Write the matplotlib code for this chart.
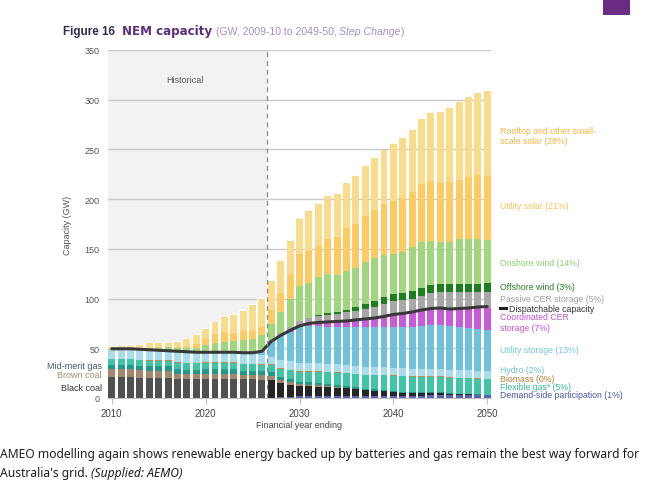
import numpy as np
import matplotlib
matplotlib.use('Agg')
import matplotlib.pyplot as plt

# financial year ending, 2010 .. 2050
years = np.arange(2010, 2051)

# capacity by technology (GW)
demand_side = [0, 0, 0, 0, 0, 0, 0, 0, 0, 0,
               0.5, 0.5, 0.5, 0.5, 0.5, 0.5, 0.5, 0.5,
               1.5, 1.5, 2, 2, 2, 2, 2, 2, 2, 2, 2.5, 2.5, 2.5, 2.5, 2.5, 2.5, 3, 3, 3, 3, 3, 3, 3]
black_coal = [21.5, 21.5, 21.5, 20.5, 20, 20, 20, 19, 19, 19, 19, 19, 19, 19, 18.5, 18.5, 18, 18,
              14, 12, 10.5, 10, 9.5, 9, 8.5, 8, 7, 6, 5, 4.5, 3.5, 3, 2.5, 2.5, 2, 2, 1.5, 1, 1, 0.5, 0]
brown_coal = [7.5, 7.5, 7.5, 7.5, 7.5, 7.3, 7.3, 5.5, 5, 5, 5, 5, 5, 5, 4.5, 4.5, 4.5, 4,
              3, 2.5, 1.5, 1.5, 1.5, 1.5, 1, 0.5, 0, 0, 0, 0, 0, 0, 0, 0, 0, 0, 0, 0, 0, 0, 0]
mid_merit_gas = [4.5, 4.5, 4.5, 4.5, 4.5, 4.5, 4.5, 4.5, 4.5, 4.5, 4.5, 4.5, 4.5, 4.5, 4, 4, 4, 3.5,
                 3, 3, 2.5, 2.5, 2.5, 2, 2, 2, 2, 1.5, 1.5, 1.5, 1, 1, 1, 1, 1, 1, 0.5, 0.5, 0.5, 0.5, 0.5]
flexible_gas = [5.5, 5.5, 5.5, 5.5, 5.5, 5.5, 5.5, 6.5, 6.5, 6.5, 6.5, 6.5, 6.5, 6.5, 6.5, 6.5, 6.5, 7.5,
                8, 9, 10, 10.5, 11, 11.5, 12, 12.5, 13, 13.5, 14, 14.5, 15.5, 15.5, 15.5, 15.5, 15.5, 15.5,
                15.5, 15.5, 15.5, 15.5, 15.5]
biomass = [0.5] * 18 + [0.5, 0.5, 0.5] + [0.3] * 20
hydro = [9, 9, 9, 9, 9, 9, 9, 9.5, 9.5, 9.5, 9.5, 9.5, 9.5, 9.5, 9.5, 9.5, 9.5, 7,
         8.5, 8.5, 8, 8, 8, 8, 8, 8, 8, 8, 7.5, 7.5, 7.5, 7.5, 7.5, 7.5, 7.5, 7.5, 7.5, 7.5, 7.5, 7.5, 7.5]
utility_storage = [0, 0, 0, 0, 0, 0, 0, 0, 0, 0, 0.5, 1, 1, 1.5, 2, 2.5, 3.5, 15,
                   23.5, 29, 36, 37.2, 37.2, 37.2, 37.2, 37.7, 38.7, 39.7, 40.2, 40.2, 40.7, 41.2, 41.7,
                   42.7, 43.7, 43.7, 43.7, 43.2, 42.2, 41.7, 41.2]
coordinated_cer = [0] * 17 + [0.5,
                   0.5, 1, 1.5, 2, 3, 4, 5, 6, 7, 8, 9, 10.5, 12, 13, 14, 15, 16.5, 17.5, 18.5, 19.5,
                   20.5, 21.5, 22.5]
passive_cer = [0] * 14 + [0.5, 1, 1.5, 2,
               3, 4, 5, 6, 7, 8, 8.5, 9, 10, 11, 12, 13, 14.5, 14.5, 15, 15.5, 16, 16, 16, 16, 16, 16, 16]
offshore_wind = [0] * 22 + [1, 1.5, 2, 2.5, 4, 5, 5.5, 7, 7.5, 7.5, 8, 8, 8, 8, 8, 8, 8, 8.5, 9]
onshore_wind = [1, 1.5, 2, 2.5, 3, 3.5, 4, 4.5, 5, 5.5, 7, 8.5, 10, 10.5, 11.5, 12, 15, 16,
                20.5, 28.5, 35.5, 36, 38.5, 40, 37.5, 39.5, 38.5, 41.5, 43, 42, 40, 41, 44, 46.5,
                44.5, 42.5, 42.5, 45.5, 45.5, 45, 43.5]
utility_solar = [0, 0, 0, 0, 0.5, 0.5, 0.5, 1, 2, 3.5, 6.5, 9, 9.5, 8, 9, 7.5, 8, 14,
                 20, 25.5, 32, 32, 31.5, 35, 38, 43, 44.5, 47, 49, 51.5, 53, 54, 55, 58, 60, 59, 60,
                 59, 62, 64, 64]
rooftop_solar = [1.5, 2, 1.5, 3, 4.5, 4.2, 3.7, 5.5, 7, 9, 10, 12, 15, 18, 21, 27, 28.5, 29.5,
                 32, 33, 35, 40, 42, 43, 43, 45, 48, 49.5, 51.5, 54, 57, 60, 63, 66, 69, 72, 75,
                 79, 81, 83, 86]
dispatchable = [49.5, 49.5, 49.5, 49, 48.5, 48, 47.5, 47, 46.5, 46, 46, 46, 46, 46, 45.5, 45.5, 47, 57,
                63, 68, 72.5, 75, 76, 76.5, 77, 77.5, 78.5, 79.5, 80.5, 82, 84, 85, 86.5, 88.5, 90,
                90.5, 89.5, 90, 90.5, 91.5, 92]

series = [
    (demand_side, '#5a5fb8'),
    (black_coal, None),
    (brown_coal, '#a4876a'),
    (mid_merit_gas, '#1f9a8a'),
    (flexible_gas, '#40c4a6'),
    (biomass, '#c08a4a'),
    (hydro, '#a9dcec'),
    (utility_storage, '#6fc2da'),
    (coordinated_cer, '#c95ad9'),
    (passive_cer, '#a8a8a8'),
    (offshore_wind, '#1d7f1d'),
    (onshore_wind, '#9fd67e'),
    (utility_solar, '#fdca63'),
    (rooftop_solar, '#f8dc8c'),
]

# right hand labels: text, colour, y position (GW)
right_labels = [
    ('Rooftop and other small-\nscale solar (28%)', '#f5b444', 264),
    ('Utility solar (21%)', '#f8c25c', 194),
    ('Onshore wind (14%)', '#8dcd6e', 136.5),
    ('Offshore wind (3%)', '#2b7a2b', 112.5),
    ('Passive CER storage (5%)', '#a0a0a0', 100.5),
    ('Coordinated CER\nstorage (7%)', '#c356d6', 76.5),
    ('Utility storage (13%)', '#78c5de', 48.5),
    ('Hydro (2%)', '#72bcd8', 29),
    ('Biomass (0%)', '#b9803e', 20),
    ('Flexible gas* (5%)', '#3cb99a', 12),
    ('Demand-side participation (1%)', '#4f55a8', 3.5),
]
left_labels = [('Mid-merit gas', '#3d5d66', 32.5), ('Brown coal', '#a48a72', 24),
               ('Black coal', '#333333', 11)]

W, H = 656, 485
fig = plt.figure(figsize=(W / 100, H / 100), dpi=100)
ax = fig.add_axes([108 / W, 1 - 399 / H, 383 / W, 348 / H])
ax.set_xlim(2009.6, 2050.4)
ax.set_ylim(0, 350)

hist_end = 2026.5
ax.axvspan(2009.6, hist_end, ymin=0, ymax=1, color='#f2f2f2', zorder=0, lw=0)

totals = np.sum([np.array(s) for s, _ in series], axis=0)
hist = years < hist_end
ax.bar(years[hist], totals[hist] + 0.5, width=0.98, color='white', zorder=1, lw=0)

bottom = np.zeros(len(years))
for vals, col in series:
    vals = np.array(vals, dtype=float)
    if col is None:
        cols = ['#505050' if y < hist_end else '#262626' for y in years]
    else:
        cols = col
    ax.bar(years, vals, width=0.74, bottom=bottom, color=cols, lw=0, zorder=2)
    bottom += vals

ax.plot(years, dispatchable, color='#383838', lw=2.2, zorder=4, solid_capstyle='round')
ax.axvline(hist_end, color='#8a8a8a', ls=(0, (4, 3)), lw=0.9, zorder=5)
ax.text(2017.8, 320, 'Historical', fontsize=6.5, color='#555555', ha='center', va='center',
        family='Liberation Sans')

ax.set_yticks(range(0, 351, 50))
ax.yaxis.grid(True, color='#c9c9c9', lw=1)
ax.set_axisbelow(True)
ax.set_xticks(range(2010, 2051, 10))
for s in ['top', 'right', 'left']:
    ax.spines[s].set_visible(False)
ax.spines['bottom'].set_color('#bdbdbd')
ax.tick_params(axis='y', length=0, pad=6, labelsize=6.5, labelcolor='#555555')
ax.tick_params(axis='x', length=4, color='#bdbdbd', pad=3, labelsize=7, labelcolor='#444444')
for lab in ax.get_xticklabels() + ax.get_yticklabels():
    lab.set_family('Liberation Sans')
ax.set_ylabel('Capacity (GW)', fontsize=6.5, color='#555555', family='Liberation Sans', labelpad=9)
ax.set_xlabel('Financial year ending', fontsize=6.5, color='#444444', family='Liberation Sans',
              labelpad=2)

tr = ax.get_yaxis_transform()
for txt, col, yv in right_labels:
    ax.text(1.023, yv, txt, transform=tr, fontsize=6.3, color=col, va='center', ha='left',
            family='Liberation Sans', linespacing=1.25, clip_on=False)
ax.plot([1.023, 1.040], [90.5, 90.5], transform=tr, color='#222222', lw=2.2, clip_on=False)
ax.text(1.047, 90.5, 'Dispatchable capacity', transform=tr, fontsize=6.3, color='#333333',
        va='center', ha='left', family='Liberation Sans', clip_on=False)
for txt, col, yv in left_labels:
    ax.text(-0.016, yv, txt, transform=tr, fontsize=6.5, color=col, va='center', ha='right',
            family='Liberation Sans', clip_on=False)

fig.canvas.draw()
renderer = fig.canvas.get_renderer()


def chain(x_px, y_px, pieces):
    # place text pieces one after another on a line, in figure pixels
    x = x_px
    for txt, gap, kw in pieces:
        t = fig.text(x / W, 1 - y_px / H, txt, va='center', **kw)
        x = t.get_window_extent(renderer).x1 + gap


# title pieces
fig.text(63 / W, 1 - 32 / H, 'Figure 16', fontsize=8.4, fontweight='bold', color='#2e2a55',
         va='center', family='Liberation Sans')
fig.text(122 / W, 1 - 32 / H, 'NEM capacity', fontsize=8.6, fontweight='bold', color='#5e2f7f',
         va='center', family='DejaVu Sans')
sub_kw = dict(fontsize=7.6, color='#a28fc0', family='Liberation Sans')
chain(216, 32, [('(GW, 2009-10 to 2049-50,', 2.5, sub_kw),
                ('Step Change', 0.5, dict(sub_kw, style='italic')),
                (')', 0, sub_kw)])

# purple corner block
fig.patches.append(plt.Rectangle((603 / W, 1 - 16 / H), 27 / W, 16 / H, transform=fig.transFigure,
                                 color='#6b2c84', lw=0))

# caption
cap_kw = dict(fontsize=8.4, color='#1e1e1e', family='Noto Sans')
line1 = fig.text(0, 1 - 455 / H, 'AMEO modelling again shows renewable energy backed up by batteries '
                 'and gas remain the best way forward for', va='center', **cap_kw)
w1 = line1.get_window_extent(renderer).width
cap_size = 8.4 * 642 / w1
line1.set_fontsize(cap_size)
cap_kw['fontsize'] = cap_size
chain(0, 474, [("Australia's grid.", 3, cap_kw),
               ('(Supplied: AEMO)', 0, dict(cap_kw, style='italic'))])

fig.savefig('out.png', dpi=100)
